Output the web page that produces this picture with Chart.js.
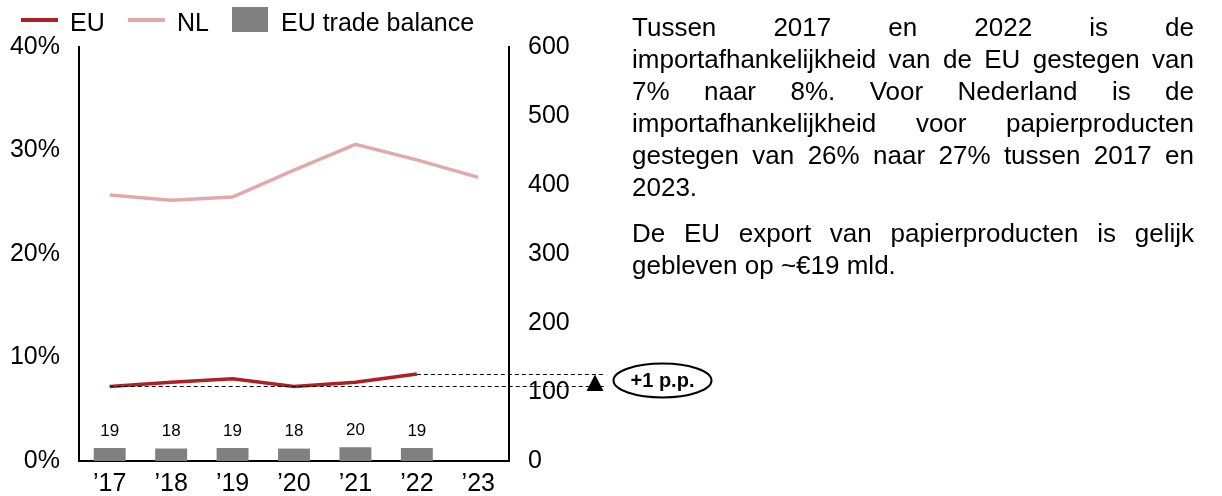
<!DOCTYPE html>
<html>
<head>
<meta charset="utf-8">
<script src="https://cdn.jsdelivr.net/npm/chart.js@4.4.1/dist/chart.umd.min.js"></script>
<style>
  body { margin:0; width:1222px; height:496px; background:#fff; position:relative; overflow:hidden;
         font-family:'Liberation Sans', Arial, sans-serif; color:#000; }
  #wrap { position:absolute; left:0; top:0; width:720px; height:496px; }
  .swatch { position:absolute; }
  .lbl { position:absolute; top:10px; font-size:25px; line-height:25px; white-space:nowrap; }
  #note { position:absolute; left:632px; top:11px; width:562px; font-size:26px; line-height:32px; text-align:justify; }
  #note p { margin:0 0 14px; }
</style>
</head>
<body>
<div id="wrap"><canvas id="chart" width="720" height="496"></canvas></div>

<!-- legend -->
<div class="swatch" style="left:21px;top:17.5px;width:37px;height:4px;background:#B01F24"></div>
<span class="lbl" style="left:70px">EU</span>
<div class="swatch" style="left:128px;top:17.5px;width:37px;height:4px;background:#E2A9AA"></div>
<span class="lbl" style="left:177px">NL</span>
<div class="swatch" style="left:232px;top:7px;width:36px;height:25px;background:#808080"></div>
<span class="lbl" style="left:281px">EU trade balance</span>

<div id="note">
  <p>Tussen 2017 en 2022 is de importafhankelijkheid van de EU gestegen van 7% naar 8%. Voor Nederland is de importafhankelijkheid voor papierproducten gestegen van 26% naar 27% tussen 2017 en 2023.</p>
  <p>De EU export van papierproducten is gelijk gebleven op ~€19 mld.</p>
</div>

<script>
const years = ['\u201917', '\u201918', '\u201919', '\u201920', '\u201921', '\u201922', '\u201923'];
const euShare = [7.2, 7.6, 7.95, 7.2, 7.6, 8.4, null];      // % import dependency EU
const nlShare = [25.7, 25.2, 25.5, 28.1, 30.6, 29.1, 27.4]; // % import dependency NL
const euTradeBalance = [19, 18, 19, 18, 20, 19, null];      // € mld, right axis

const FONT = "'Liberation Sans', Arial, sans-serif";
Chart.defaults.font.family = FONT;
Chart.defaults.color = '#000';

// value labels above the trade balance bars
const barLabels = {
  id: 'barLabels',
  afterDatasetsDraw(chart) {
    const ctx = chart.ctx;
    const bars = chart.getDatasetMeta(2).data;
    ctx.save();
    ctx.font = '17px ' + FONT;
    ctx.fillStyle = '#000';
    ctx.textAlign = 'center';
    ctx.textBaseline = 'middle';
    bars.forEach((bar, i) => {
      if (euTradeBalance[i] == null) return;
      ctx.fillText(euTradeBalance[i], bar.x, bar.y - 17);
    });
    ctx.restore();
  }
};

// dashed guides from first/last EU point, arrow and p.p. bubble
const gapMarker = {
  id: 'gapMarker',
  afterDraw(chart) {
    const { ctx, chartArea } = chart;
    const pts = chart.getDatasetMeta(0).data;
    const lastIdx = euShare.findLastIndex(v => v != null);
    const a = pts[0], b = pts[lastIdx];
    const ya = Math.round(a.y) + 0.5, yb = Math.round(b.y) + 0.5;
    const xEnd = chartArea.right + 96;

    ctx.save();
    ctx.strokeStyle = '#000';
    ctx.lineWidth = 1;
    ctx.setLineDash([4, 3]);
    ctx.beginPath();
    ctx.moveTo(a.x, ya); ctx.lineTo(xEnd, ya);
    ctx.moveTo(b.x, yb); ctx.lineTo(xEnd, yb);
    ctx.stroke();
    ctx.setLineDash([]);

    const tx = chartArea.right + 86;
    ctx.fillStyle = '#000';
    ctx.beginPath();
    ctx.moveTo(tx, yb);
    ctx.lineTo(tx + 8.5, ya + 4.5);
    ctx.lineTo(tx - 8.5, ya + 4.5);
    ctx.closePath();
    ctx.fill();

    const ex = chartArea.right + 153.5, ey = (ya + yb) / 2;
    ctx.beginPath();
    ctx.ellipse(ex, ey, 49, 17, 0, 0, Math.PI * 2);
    ctx.fillStyle = '#fff';
    ctx.fill();
    ctx.lineWidth = 2;
    ctx.stroke();

    const diff = Math.round(euShare[lastIdx] - euShare[0]);
    ctx.fillStyle = '#000';
    ctx.font = 'bold 20px ' + FONT;
    ctx.textAlign = 'center';
    ctx.textBaseline = 'middle';
    ctx.fillText('+' + diff + ' p.p.', ex, ey + 1);
    ctx.restore();
  }
};

new Chart(document.getElementById('chart'), {
  type: 'bar',
  data: {
    labels: years,
    datasets: [
      { type:'line', label:'EU', data:euShare, yAxisID:'y', borderColor:'#B01F24', borderWidth:3.5,
        pointRadius:0, tension:0, order:1 },
      { type:'line', label:'NL', data:nlShare, yAxisID:'y', borderColor:'#E2A9AA', borderWidth:3.5,
        pointRadius:0, tension:0, order:1 },
      { type:'bar', label:'EU trade balance', data:euTradeBalance, yAxisID:'y1', backgroundColor:'#808080',
        barPercentage:0.52, categoryPercentage:1, order:2 }
    ]
  },
  options: {
    responsive:false,
    animation:false,
    layout:{ padding:{ top:47, left:0, right:0, bottom:0 } },
    plugins:{ legend:{ display:false }, tooltip:{ enabled:false } },
    scales:{
      x:{
        offset:true,
        grid:{ display:false, drawTicks:false },
        border:{ color:'#000', width:2 },
        ticks:{ font:{ size:25 }, padding:8, color:'#000' },
        afterFit: s => { s.height = 35; }
      },
      y:{
        position:'left', min:0, max:40,
        grid:{ display:false, drawTicks:false },
        border:{ color:'#000', width:2 },
        ticks:{ stepSize:10, font:{ size:25 }, padding:19, color:'#000', callback: v => v + '%' },
        afterFit: s => { s.width = 79; }
      },
      y1:{
        position:'right', min:0, max:600,
        grid:{ display:false, drawTicks:false },
        border:{ color:'#000', width:2 },
        ticks:{ stepSize:100, font:{ size:25 }, padding:19, color:'#000' },
        afterFit: s => { s.width = 211; }
      }
    }
  },
  plugins:[barLabels, gapMarker]
});
</script>
</body>
</html>
